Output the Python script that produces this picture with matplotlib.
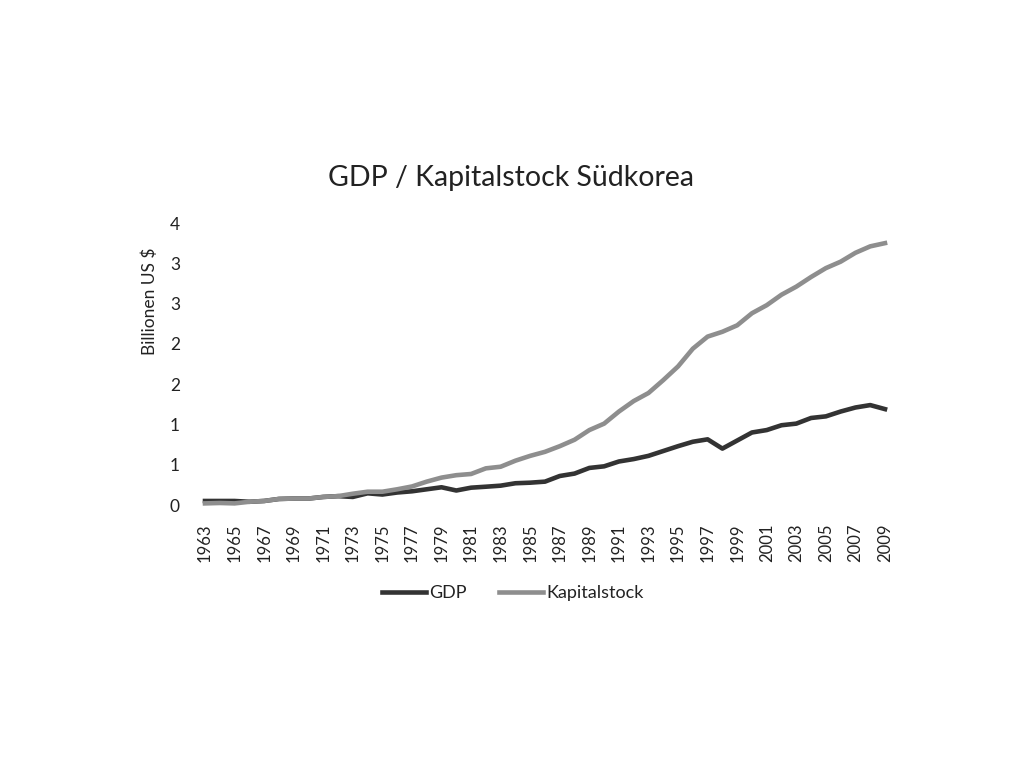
import matplotlib
matplotlib.use("Agg")
import matplotlib.pyplot as plt

plt.rcParams["font.family"] = ["Lato", "DejaVu Sans"]

TITEL = "GDP / Kapitalstock Südkorea"
Y_TITEL = "Billionen US $"

jahre = list(range(1963, 2010))

gdp = [0.05, 0.05, 0.05, 0.04, 0.05, 0.075, 0.08, 0.08, 0.10, 0.11,
       0.10, 0.145, 0.13, 0.155, 0.17, 0.195, 0.22, 0.18, 0.215, 0.227,
       0.24, 0.27, 0.277, 0.29, 0.36, 0.39, 0.46, 0.48, 0.54, 0.57,
       0.61, 0.67, 0.73, 0.785, 0.815, 0.70, 0.80, 0.90, 0.93, 0.99,
       1.01, 1.08, 1.10, 1.16, 1.21, 1.24, 1.19]

kapitalstock = [0.02, 0.025, 0.02, 0.04, 0.05, 0.075, 0.08, 0.08, 0.10, 0.11,
                0.14, 0.165, 0.165, 0.195, 0.23, 0.29, 0.34, 0.37, 0.385, 0.455,
                0.475, 0.55, 0.61, 0.66, 0.73, 0.81, 0.93, 1.01, 1.16, 1.29,
                1.39, 1.55, 1.72, 1.94, 2.09, 2.15, 2.23, 2.38, 2.48, 2.61,
                2.71, 2.83, 2.94, 3.02, 3.13, 3.21, 3.25]

y_ticks = [0, 0.5, 1.0, 1.5, 2.0, 2.5, 3.0, 3.5]
# Excel rundet die Achsenbeschriftung auf ganze Zahlen
y_labels = ["0", "1", "1", "2", "2", "3", "3", "4"]

x_ticks = jahre[::2]


def main() -> None:
    fig = plt.figure(figsize=(10.24, 7.68), dpi=100)
    ax = fig.add_axes([205 / 1024, 1 - 505 / 768, 680 / 1024, 282 / 768])

    ax.plot(jahre, gdp, color="#333333", lw=3.3, label="GDP",
            clip_on=False, solid_joinstyle="round")
    ax.plot(jahre, kapitalstock, color="#8e8e8e", lw=3.3, label="Kapitalstock",
            clip_on=False, solid_joinstyle="round")

    ax.set_xlim(1963, 2009)
    ax.set_ylim(0, 3.5)
    ax.set_yticks(y_ticks)
    ax.set_yticklabels(y_labels)
    ax.set_xticks(x_ticks)
    ax.set_xticklabels([str(j) for j in x_ticks], rotation=90)

    for s in ax.spines.values():
        s.set_visible(False)
    ax.tick_params(axis="y", length=0, pad=18, labelsize=12.5, colors="#222222")
    ax.tick_params(axis="x", length=0, pad=13, labelsize=12, colors="#222222")

    fig.text(511 / 1024, 1 - 178 / 768, TITEL, ha="center", va="center",
             fontsize=20.5, color="#222222")
    fig.text(150 / 1024, 1 - 301 / 768, Y_TITEL, ha="center", va="center",
             rotation=90, fontsize=12.5, color="#222222")

    fig.legend(loc="center", bbox_to_anchor=(513 / 1024, 1 - 593 / 768), ncol=2,
               frameon=False, fontsize=13, handlelength=2.4, handletextpad=0.2,
               columnspacing=1.8, labelcolor="#222222")

    fig.savefig("out.png", dpi=100)
    plt.close(fig)


if __name__ == "__main__":
    main()
